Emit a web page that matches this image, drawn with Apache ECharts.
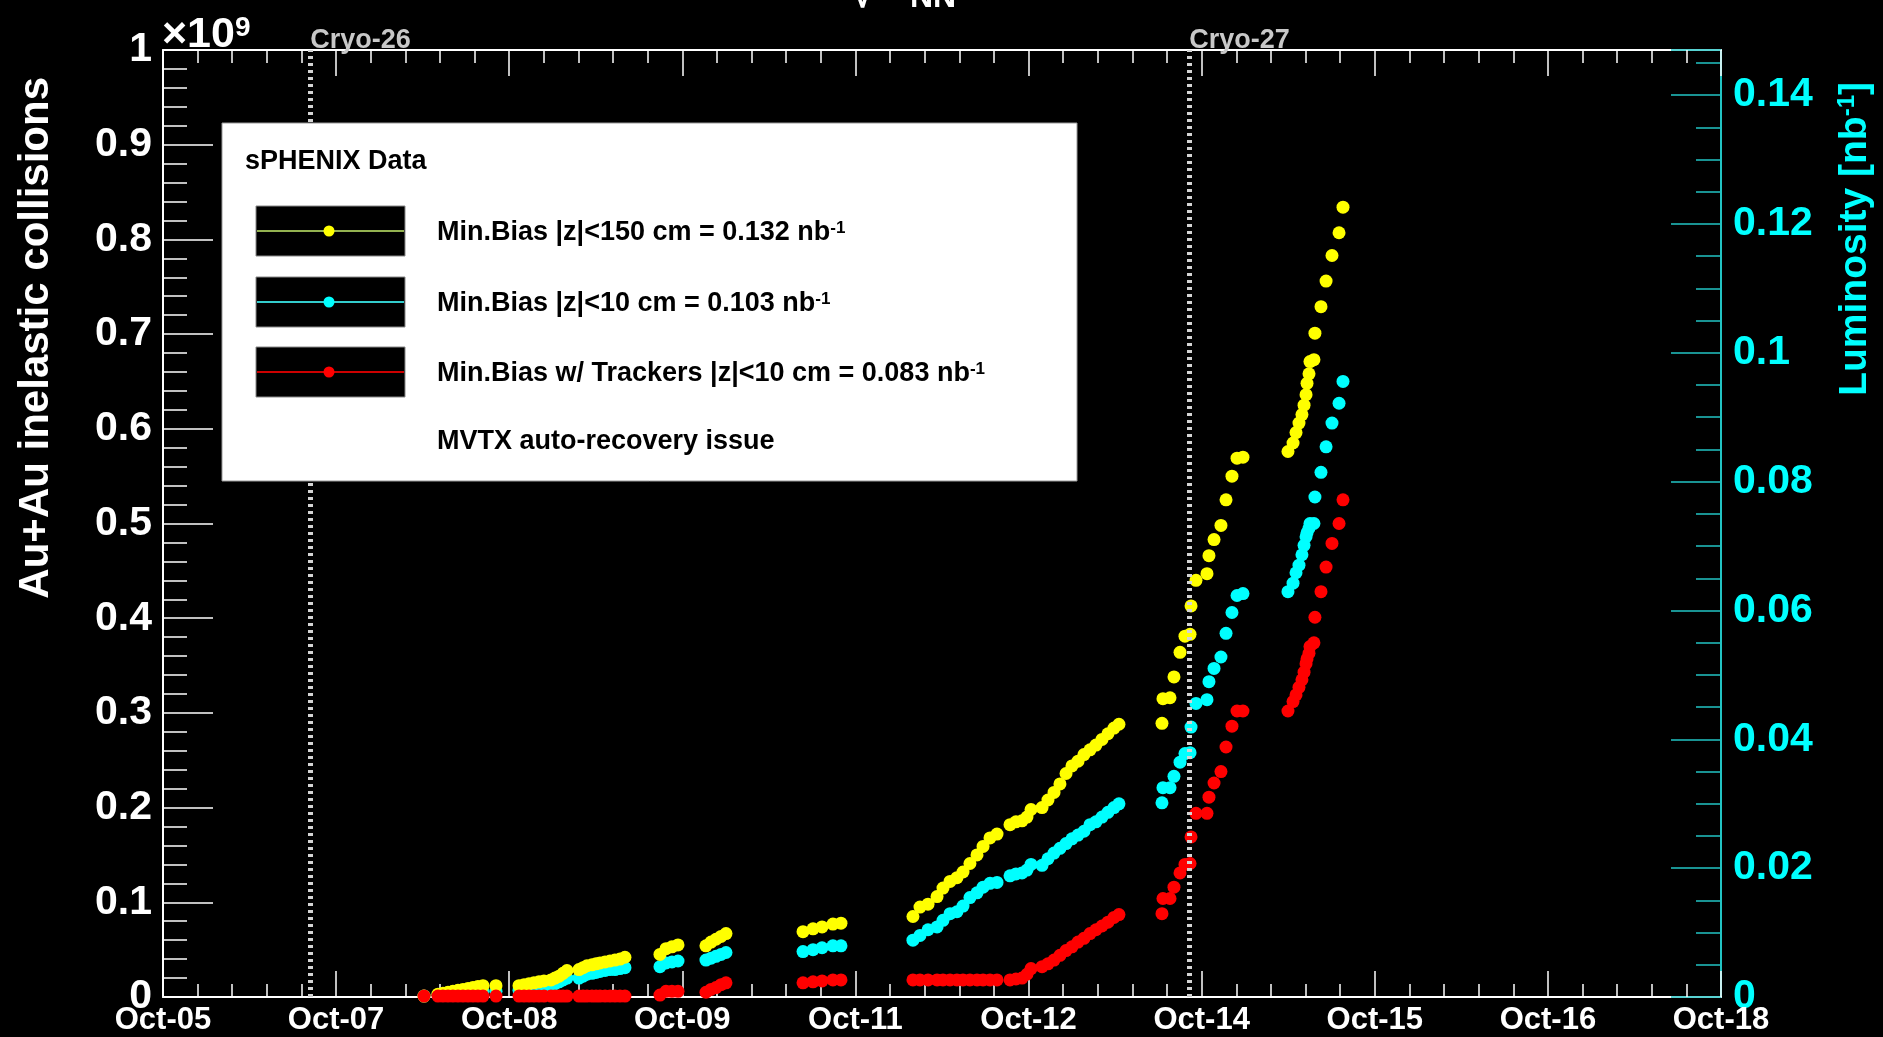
<!DOCTYPE html>
<html><head><meta charset="utf-8">
<script src="https://cdn.jsdelivr.net/npm/echarts@6/dist/echarts.min.js"></script>
<style>html,body{margin:0;padding:0;background:#000;}#c{width:1883px;height:1037px;}</style>
</head><body><div id="c"></div>
<script>
// ---- axis tick labels ----
const xTickLabels = ['Oct-05','Oct-07','Oct-08','Oct-09','Oct-11','Oct-12','Oct-14','Oct-15','Oct-16','Oct-18'];
const yTickLabels = ['0','0.1','0.2','0.3','0.4','0.5','0.6','0.7','0.8','0.9','1'];
const lumiTickLabels = ['0','0.02','0.04','0.06','0.08','0.1','0.12','0.14'];
const seriesNames = ['Min.Bias |z|<150 cm = 0.132 nb', 'Min.Bias |z|<10 cm = 0.103 nb', 'Min.Bias w/ Trackers |z|<10 cm = 0.083 nb'];
const extraLegendText = 'MVTX auto-recovery issue';
const legendTitle = 'sPHENIX Data';
const cryoNames = ['Cryo-26','Cryo-27'];
const cryoTimes = [6.79, 13.90];   // day of October

// ---- data: time (day of October) and cumulative collisions (x1e9) ----
const runTime = [
7.711,
7.824,7.864,7.905,7.945,7.986,8.026,8.067,8.107,8.147,8.188,
8.293,
8.479,8.520,8.560,8.600,8.641,8.681,
8.738,8.770,8.803,8.835,8.867,
8.964,8.997,9.029,9.069,9.102,9.134,9.175,9.215,9.255,9.296,9.336,
9.619,9.668,9.716,9.765,
9.991,10.032,10.072,10.113,10.153,
10.776,10.857,10.930,11.018,11.083,
11.665,11.722,11.787,11.860,11.908,11.965,12.021,12.070,12.126,12.183,12.232,12.288,12.345,
12.450,12.498,12.547,12.587,12.620,
12.709,12.757,12.806,12.854,12.903,12.951,13.000,13.048,13.097,13.145,13.194,13.242,13.291,13.331,
13.679,13.687,13.744,13.776,13.825,13.865,13.906,13.914,13.954,14.043,14.059,14.100,14.156,14.197,14.245,14.286,14.334,
14.698,14.739,14.763,14.787,14.811,14.828,14.844,14.852,14.868,14.876,14.908,14.916,14.965,15.006,15.054,15.111,15.143
];
const minBias150 = [
0.001,
0.003,0.004,0.005,0.006,0.007,0.008,0.009,0.010,0.011,0.012,
0.012,
0.012,0.013,0.014,0.015,0.016,0.017,
0.018,0.020,0.022,0.025,0.028,
0.029,0.031,0.033,0.034,0.035,0.036,0.037,0.038,0.039,0.040,0.042,
0.045,0.051,0.053,0.055,
0.054,0.058,0.061,0.064,0.067,
0.069,0.072,0.074,0.077,0.078,
0.085,0.095,0.098,0.106,0.115,0.122,0.126,0.132,0.141,0.150,0.159,0.168,0.172,
0.182,0.185,0.186,0.190,0.198,
0.200,0.208,0.216,0.225,0.236,0.244,0.249,0.256,0.261,0.266,0.272,0.278,0.284,0.288,
0.289,0.315,0.316,0.338,0.364,0.381,0.383,0.413,0.440,0.447,0.466,0.483,0.498,0.525,0.550,0.569,0.570,
0.576,0.585,0.596,0.606,0.615,0.625,0.636,0.648,0.658,0.671,0.673,0.701,0.729,0.756,0.783,0.807,0.834
];
const minBias10 = [
0.001,
0.002,0.002,0.003,0.003,0.004,0.004,0.005,0.005,0.006,0.006,
0.006,
0.007,0.008,0.009,0.010,0.010,0.011,
0.012,0.014,0.016,0.018,0.020,
0.020,0.022,0.024,0.025,0.026,0.027,0.028,0.029,0.029,0.030,0.031,
0.032,0.036,0.037,0.038,
0.039,0.041,0.043,0.045,0.047,
0.048,0.050,0.052,0.054,0.054,
0.060,0.065,0.071,0.074,0.081,0.088,0.090,0.096,0.105,0.110,0.116,0.120,0.121,
0.128,0.130,0.131,0.134,0.140,
0.139,0.146,0.152,0.157,0.162,0.167,0.171,0.175,0.182,0.185,0.190,0.195,0.200,0.204,
0.205,0.221,0.221,0.233,0.248,0.257,0.258,0.285,0.310,0.314,0.333,0.347,0.359,0.384,0.406,0.424,0.426,
0.428,0.437,0.448,0.456,0.467,0.477,0.486,0.490,0.495,0.500,0.500,0.528,0.554,0.581,0.606,0.627,0.650
];
const minBiasTrk = [
0.001,
0.001,0.001,0.001,0.001,0.001,0.001,0.001,0.001,0.001,0.001,
0.001,
0.001,0.001,0.001,0.001,0.001,0.001,
0.001,0.001,0.001,0.001,0.001,
0.001,0.001,0.001,0.001,0.001,0.001,0.001,0.001,0.001,0.001,0.001,
0.002,0.006,0.006,0.006,
0.005,0.008,0.010,0.013,0.015,
0.015,0.016,0.017,0.018,0.018,
0.018,0.018,0.018,0.018,0.018,0.018,0.018,0.018,0.018,0.018,0.018,0.018,0.018,
0.018,0.019,0.020,0.024,0.030,
0.032,0.035,0.039,0.044,0.049,0.053,0.058,0.062,0.067,0.071,0.075,0.079,0.084,0.087,
0.088,0.104,0.104,0.116,0.131,0.140,0.141,0.169,0.194,0.194,0.211,0.226,0.238,0.264,0.286,0.302,0.302,
0.302,0.312,0.319,0.327,0.335,0.343,0.352,0.357,0.363,0.370,0.374,0.401,0.428,0.454,0.479,0.500,0.525
];

const X_MIN = 5.6, X_STEP = 1.4, X_MAX = 18.2;
const Y_STEP = 0.1, L_STEP = 0.02, L_MAX = 0.147;
const colors = ['#ffff00', '#00ffff', '#ff0000'];
const legendLineColors = ['#93b150', '#33cccc', '#cc0000'];

const chart = echarts.init(document.getElementById('c'), null, {renderer: 'canvas'});
const LS = '"Liberation Sans", Arial, Helvetica, sans-serif';

function xAxisCfg(pos) {
  return {
    type: 'value', position: pos, min: X_MIN, max: X_MAX, interval: X_STEP,
    axisLine: {show: true, onZero: false, lineStyle: {color: '#fff', width: 2}},
    axisTick: {show: true, inside: true, length: 26, lineStyle: {color: '#fff', width: 1.5}},
    minorTick: {show: true, splitNumber: 5, length: 13, lineStyle: {color: '#fff', width: 1.5}},
    splitLine: {show: false}, minorSplitLine: {show: false},
    axisLabel: {show: pos === 'bottom', margin: 8, color: '#fff', fontFamily: LS, fontWeight: 'bold', fontSize: 31,
      showMinLabel: true, showMaxLabel: true,
      formatter: v => { const i = Math.round((v - X_MIN) / X_STEP); return xTickLabels[i] ?? ''; }}
  };
}

const legendGraphics = [];
legendGraphics.push({type: 'rect', shape: {x: 222, y: 123, width: 855, height: 358}, style: {fill: '#fff', stroke: '#999', lineWidth: 1}, z: 100});
legendGraphics.push({type: 'text', x: 245, y: 162, z: 101, style: {text: legendTitle, fill: '#000', font: 'bold 27px ' + LS, textAlign: 'left', align: 'left', textVerticalAlign: 'middle', verticalAlign: 'middle'}});
const boxY = [206, 277, 347];
seriesNames.forEach((nm, i) => {
  const cy = boxY[i] + 25;
  legendGraphics.push({type: 'rect', z: 101, shape: {x: 256, y: boxY[i], width: 149, height: 50}, style: {fill: '#000', stroke: '#888', lineWidth: 1}});
  legendGraphics.push({type: 'line', z: 102, shape: {x1: 257, y1: cy, x2: 404, y2: cy}, style: {stroke: legendLineColors[i], lineWidth: 2}});
  legendGraphics.push({type: 'circle', z: 103, shape: {cx: 329, cy: cy, r: 5.5}, style: {fill: colors[i]}});
  legendGraphics.push({type: 'text', z: 101, x: 437, y: cy + 2, style: {
    text: '{t|' + nm + '}{s|-1}', textAlign: 'left', align: 'left', textVerticalAlign: 'middle', verticalAlign: 'middle',
    rich: {t: {fill: '#000', fontSize: 27, fontFamily: LS, fontWeight: 'bold'},
           s: {fill: '#000', fontSize: 17, fontFamily: LS, fontWeight: 'bold', verticalAlign: 'top'}}}});
});
legendGraphics.push({type: 'text', x: 437, y: 442, z: 101, style: {text: extraLegendText, fill: '#000', font: 'bold 27px ' + LS, textAlign: 'left', align: 'left', textVerticalAlign: 'middle', verticalAlign: 'middle'}});

const option = {
  backgroundColor: '#000',
  animation: false,
  grid: {left: 163, right: 162, top: 50, bottom: 40, containLabel: false},
  xAxis: [xAxisCfg('bottom'), xAxisCfg('top')],
  yAxis: [
    {type: 'value', position: 'left', min: 0, max: 1, interval: Y_STEP,
     axisLine: {show: true, onZero: false, lineStyle: {color: '#fff', width: 2}},
     axisTick: {show: true, inside: true, length: 50, lineStyle: {color: '#fff', width: 1.5}},
     minorTick: {show: true, splitNumber: 5, length: 24, lineStyle: {color: '#fff', width: 1.5}},
     splitLine: {show: false}, minorSplitLine: {show: false},
     axisLabel: {margin: 11, color: '#fff', fontFamily: LS, fontWeight: 'bold', fontSize: 41,
       formatter: v => { const i = Math.round(v / Y_STEP); return yTickLabels[i] ?? ''; }}},
    {type: 'value', position: 'right', min: 0, max: L_MAX, interval: L_STEP,
     axisLine: {show: true, onZero: false, lineStyle: {color: '#22c4c4', width: 2}},
     axisTick: {show: true, inside: true, length: 50, lineStyle: {color: '#22c4c4', width: 1.5}},
     minorTick: {show: true, splitNumber: 4, length: 25, lineStyle: {color: '#22c4c4', width: 1.5}},
     splitLine: {show: false}, minorSplitLine: {show: false},
     axisLabel: {margin: 12, color: '#00ffff', fontFamily: LS, fontWeight: 'bold', fontSize: 41, showMaxLabel: false,
       formatter: v => { const i = Math.round(v / L_STEP); return (Math.abs(v - i * L_STEP) < 1e-6) ? (lumiTickLabels[i] ?? '') : ''; }}}
  ],
  series: [
    {name: seriesNames[1], type: 'scatter', xAxisIndex: 0, yAxisIndex: 0, z: 2, symbolSize: 13,
     itemStyle: {color: colors[1], opacity: 1}, emphasis: {disabled: true}, data: runTime.map((t, i) => [t, minBias10[i]])},
    {name: seriesNames[0], type: 'scatter', xAxisIndex: 0, yAxisIndex: 0, z: 3, symbolSize: 13,
     itemStyle: {color: colors[0], opacity: 1}, emphasis: {disabled: true}, data: runTime.map((t, i) => [t, minBias150[i]])},
    {name: seriesNames[2], type: 'scatter', xAxisIndex: 0, yAxisIndex: 0, z: 4, symbolSize: 13,
     itemStyle: {color: colors[2], opacity: 1}, emphasis: {disabled: true}, data: runTime.map((t, i) => [t, minBiasTrk[i]])},
    {name: 'cryo', type: 'line', xAxisIndex: 0, yAxisIndex: 0, z: 5, data: [],
     markLine: {silent: true, symbol: ['none', 'none'], animation: false,
       lineStyle: {color: '#d4d4d4', width: 5, type: [3, 4]},
       label: {show: true, position: 'end', align: 'left', verticalAlign: 'bottom', distance: -4,
         color: '#c8c8c8', fontFamily: LS, fontWeight: 'bold', fontSize: 27, formatter: '{b}'},
       emphasis: {disabled: true},
       data: cryoTimes.map((t, i) => ({xAxis: t, name: cryoNames[i]}))}}
  ],
  graphic: [
    {type: 'text', x: 36, y: 77, rotation: Math.PI / 2, style: {text: 'Au+Au inelastic collisions', fill: '#fff',
      font: 'bold 42px ' + LS, textAlign: 'right', align: 'right', textVerticalAlign: 'middle', verticalAlign: 'middle'}},
    {type: 'text', x: 1855, y: 82, rotation: Math.PI / 2, style: {text: '{a|Luminosity [nb}{b|-1}{a|]}',
      textAlign: 'right', align: 'right', textVerticalAlign: 'middle', verticalAlign: 'middle',
      rich: {a: {fill: '#00ffff', fontSize: 39, fontFamily: LS, fontWeight: 'bold'},
             b: {fill: '#00ffff', fontSize: 24, fontFamily: LS, fontWeight: 'bold', verticalAlign: 'top'}}}},
    {type: 'text', x: 162, y: 57, style: {text: '{a|\u00d710}{b|9}', textAlign: 'left', align: 'left', textVerticalAlign: 'bottom', verticalAlign: 'bottom',
      rich: {a: {fill: '#fff', fontSize: 43, fontFamily: LS, fontWeight: 'bold'},
             b: {fill: '#fff', fontSize: 28, fontFamily: LS, fontWeight: 'bold', verticalAlign: 'top'}}}},
    {type: 'text', x: 852, y: 16, style: {text: '\u221a', fill: '#fff', font: 'bold 40px ' + LS, textAlign: 'left', align: 'left', textVerticalAlign: 'bottom', verticalAlign: 'bottom'}},
    {type: 'text', x: 910, y: 14, style: {text: 'NN', fill: '#fff', font: 'bold 32px ' + LS, textAlign: 'left', align: 'left', textVerticalAlign: 'bottom', verticalAlign: 'bottom'}},
    ...legendGraphics
  ]
};
chart.setOption(option);
</script></body></html>
